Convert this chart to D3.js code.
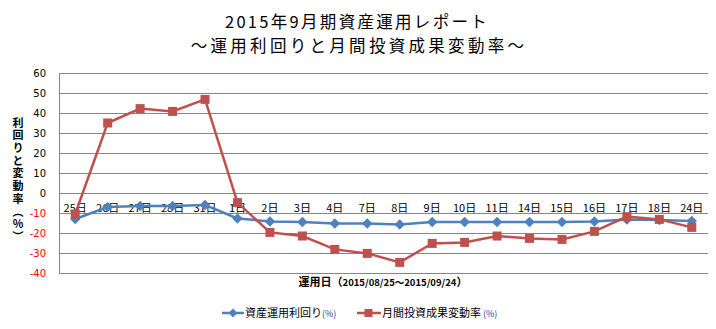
<!DOCTYPE html>
<html><head><meta charset="utf-8">
<script src="https://cdn.jsdelivr.net/npm/d3@7"></script>
<style>body{margin:0;background:#fff}svg{display:block}</style>
</head><body><svg id="c" width="716" height="329"></svg>
<script>
const categories = ["25日","26日","27日","28日","31日","1日","2日","3日","4日","7日","8日","9日","10日","11日","14日","15日","16日","17日","18日","24日"];
const yieldValues = [-13,-7,-6.5,-6.5,-6,-12.7,-14.2,-14.5,-15.2,-15.2,-15.7,-14.5,-14.5,-14.5,-14.5,-14.5,-14.2,-13.2,-13.5,-14];
const changeValues = [-10.5,35,42.2,40.8,46.8,-4.8,-19.7,-21.5,-28.2,-30.2,-34.7,-25.2,-24.7,-21.5,-22.7,-23.2,-19.2,-11.8,-13.2,-17.2];
const yTicks = [60,50,40,30,20,10,0,-10,-20,-30,-40];
const seriesNames = ["資産運用利回り","月間投資成果変動率"];

const svg = d3.select("#c");
const L = 59, R = 708, T = 73, B = 273;
const x = d3.scaleBand().domain(categories).range([L, R]).padding(0);
const y = d3.scaleLinear().domain([-40, 60]).range([B, T]);
const cx = d => x(d) + x.bandwidth() / 2;
const jp = "'Noto Sans CJK JP', sans-serif";

// title
svg.append("text").attr("x", 357).attr("y", 27.5).attr("text-anchor", "middle")
  .attr("font-family", jp).attr("font-size", 16.5).attr("letter-spacing", 2.3).attr("fill", "#000")
  .text("2015年9月期資産運用レポート");
svg.append("text").attr("x", 359).attr("y", 51.5).attr("text-anchor", "middle")
  .attr("font-family", jp).attr("font-size", 16.5).attr("letter-spacing", 3.3).attr("fill", "#000")
  .text("～運用利回りと月間投資成果変動率～");

// gridlines
svg.append("g").selectAll("line").data(yTicks).join("line")
  .attr("x1", L).attr("x2", R).attr("y1", d => y(d) + 0.5).attr("y2", d => y(d) + 0.5)
  .attr("stroke", "#868686").attr("stroke-width", 1);
// left axis
svg.append("line").attr("x1", L + 0.5).attr("x2", L + 0.5).attr("y1", T).attr("y2", B + 1)
  .attr("stroke", "#868686");

// y tick labels
svg.append("g").selectAll("text").data(yTicks).join("text")
  .attr("x", 46).attr("y", d => y(d) + 4).attr("text-anchor", "end")
  .attr("font-family", "'DejaVu Sans', sans-serif").attr("font-size", 10)
  .attr("fill", d => d < 0 ? "#FF0000" : "#000").text(d => d);

// y axis title (vertical)
svg.append("text").attr("x", 18).attr("y", 117)
  .style("writing-mode", "vertical-rl").style("text-orientation", "upright")
  .attr("font-family", jp).attr("font-size", 11).attr("font-weight", "bold")
  .attr("letter-spacing", 1.7).attr("fill", "#000")
  .text("利回りと変動率（%）");

// category labels
svg.append("g").selectAll("text").data(categories).join("text")
  .attr("x", d => cx(d)).attr("y", y(0) + 19).attr("text-anchor", "middle")
  .attr("font-family", jp).attr("font-size", 11).attr("fill", "#000")
  .text(d => d);

const line = d3.line().x((d, i) => cx(categories[i])).y(d => y(d));
const blue = "#4F81BD", red = "#C0504D";

svg.append("path").datum(yieldValues).attr("d", line).attr("fill", "none").attr("stroke", blue).attr("stroke-width", 2.5);
svg.append("g").selectAll("path").data(yieldValues).join("path")
  .attr("d", d3.symbol(d3.symbolDiamond2, 70))
  .attr("transform", (d, i) => `translate(${cx(categories[i])},${y(d)})`).attr("fill", blue);

svg.append("path").datum(changeValues).attr("d", line).attr("fill", "none").attr("stroke", red).attr("stroke-width", 2.5);
svg.append("g").selectAll("rect").data(changeValues).join("rect")
  .attr("x", (d, i) => cx(categories[i]) - 4.5).attr("y", d => y(d) - 4.5)
  .attr("width", 9).attr("height", 9).attr("fill", red);

// x axis title
const xt = svg.append("text").attr("x", 383).attr("y", 286).attr("text-anchor", "middle")
  .attr("font-family", jp).attr("font-weight", "bold").attr("fill", "#000");
xt.append("tspan").attr("font-size", 11).text("運用日（");
xt.append("tspan").attr("font-size", 9.5).text("2015/08/25～2015/09/24");
xt.append("tspan").attr("font-size", 11).text("）");

// legend
const lg = svg.append("g").attr("font-family", jp).attr("font-size", 11);
lg.append("line").attr("x1", 222).attr("x2", 244).attr("y1", 313).attr("y2", 313).attr("stroke", blue).attr("stroke-width", 2.5);
lg.append("path").attr("d", d3.symbol(d3.symbolDiamond2, 50)).attr("transform", "translate(233,313)").attr("fill", blue);
const t1 = lg.append("text").attr("x", 245).attr("y", 317).attr("fill", "#000");
t1.append("tspan").text(seriesNames[0]);
t1.append("tspan").attr("font-size", 9).attr("fill", "#1F3A93").text("(%)");
lg.append("line").attr("x1", 357).attr("x2", 381).attr("y1", 313).attr("y2", 313).attr("stroke", red).attr("stroke-width", 2.5);
lg.append("rect").attr("x", 364.5).attr("y", 309).attr("width", 8).attr("height", 8).attr("fill", red);
const t2 = lg.append("text").attr("x", 382).attr("y", 317).attr("fill", "#000");
t2.append("tspan").text(seriesNames[1]);
t2.append("tspan").attr("font-size", 9).attr("fill", "#1F3A93").text(" (%)");
</script></body></html>
